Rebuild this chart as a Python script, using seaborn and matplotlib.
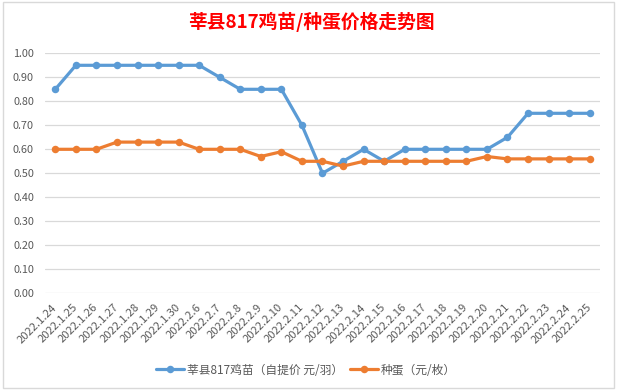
import matplotlib
matplotlib.use("Agg")
import matplotlib.pyplot as plt
import seaborn as sns
import pandas as pd
from matplotlib.patches import Rectangle

dates = ["2022.1.24", "2022.1.25", "2022.1.26", "2022.1.27", "2022.1.28", "2022.1.29",
         "2022.1.30", "2022.2.6", "2022.2.7", "2022.2.8", "2022.2.9", "2022.2.10",
         "2022.2.11", "2022.2.12", "2022.2.13", "2022.2.14", "2022.2.15", "2022.2.16",
         "2022.2.17", "2022.2.18", "2022.2.19", "2022.2.20", "2022.2.21", "2022.2.22",
         "2022.2.23", "2022.2.24", "2022.2.25"]
chick = [0.85, 0.95, 0.95, 0.95, 0.95, 0.95, 0.95, 0.95, 0.90, 0.85, 0.85, 0.85, 0.70,
         0.50, 0.55, 0.60, 0.55, 0.60, 0.60, 0.60, 0.60, 0.60, 0.65, 0.75, 0.75, 0.75, 0.75]
egg = [0.60, 0.60, 0.60, 0.63, 0.63, 0.63, 0.63, 0.60, 0.60, 0.60, 0.57, 0.59, 0.55,
       0.55, 0.53, 0.55, 0.55, 0.55, 0.55, 0.55, 0.55, 0.57, 0.56, 0.56, 0.56, 0.56, 0.56]
series_names = ["莘县817鸡苗（自提价 元/羽）", "种蛋（元/枚）"]
yticks = [0.0, 0.1, 0.2, 0.3, 0.4, 0.5, 0.6, 0.7, 0.8, 0.9, 1.0]
title = "莘县817鸡苗/种蛋价格走势图"

df = pd.DataFrame({
    "date": dates * 2,
    "value": chick + egg,
    "series": [series_names[0]] * len(dates) + [series_names[1]] * len(dates),
})

sns.set_theme(style="white")
plt.rcParams["font.family"] = ["Noto Sans CJK SC", "DejaVu Sans"]

W, H = 617, 391
fig = plt.figure(figsize=(W / 100, H / 100), dpi=100)
ax = fig.add_axes([45 / W, 1 - 293.3 / H, (600 - 45) / W, (293.3 - 53.3) / H])

palette = {series_names[0]: "#5B9BD5", series_names[1]: "#ED7D31"}
sns.pointplot(data=df, x="date", y="value", hue="series", order=dates,
              hue_order=series_names, palette=palette, markers="o",
              markersize=5.4, linewidth=2.3, errorbar=None, ax=ax, dodge=False)

for line in ax.lines:
    line.set_clip_on(False)
    line.set_markeredgewidth(0)

ax.set_xlim(-0.5, len(dates) - 0.5)
ax.set_ylim(0, 1.0)
ax.set_yticks(yticks)
ax.set_yticklabels([f"{v:.2f}" for v in yticks])
ax.yaxis.grid(True, color="#d9d9d9", linewidth=0.9)
ax.set_axisbelow(True)
for s in ax.spines.values():
    s.set_visible(False)
ax.set_xlabel("")
ax.set_ylabel("")
ax.tick_params(axis="y", length=0, pad=8, labelsize=7.8, labelcolor="#595959")
ax.tick_params(axis="x", length=0, pad=9, labelsize=8.1, labelcolor="#595959")
for lab in ax.get_xticklabels():
    lab.set_rotation(45)
    lab.set_ha("right")
    lab.set_va("center")
    lab.set_rotation_mode("anchor")

handles, labels = ax.get_legend_handles_labels()
if ax.get_legend() is not None:
    ax.get_legend().remove()
fig.legend(handles, labels, loc="center", bbox_to_anchor=(306 / W, 1 - 370 / H),
           ncol=2, frameon=False, fontsize=8.5, labelcolor="#595959",
           handlelength=2.4, handletextpad=0.2, columnspacing=0.6)

fig.text(311 / W, 1 - 22 / H, title, color="#FF0000", fontsize=13.5,
         fontweight="bold", ha="center", va="center")

fig.patches.append(Rectangle((3 / W, 1 - 388 / H), 611 / W, 386 / H,
                             transform=fig.transFigure, fill=False,
                             edgecolor="#d9d9d9", linewidth=1))

fig.savefig("out.png", dpi=100)
